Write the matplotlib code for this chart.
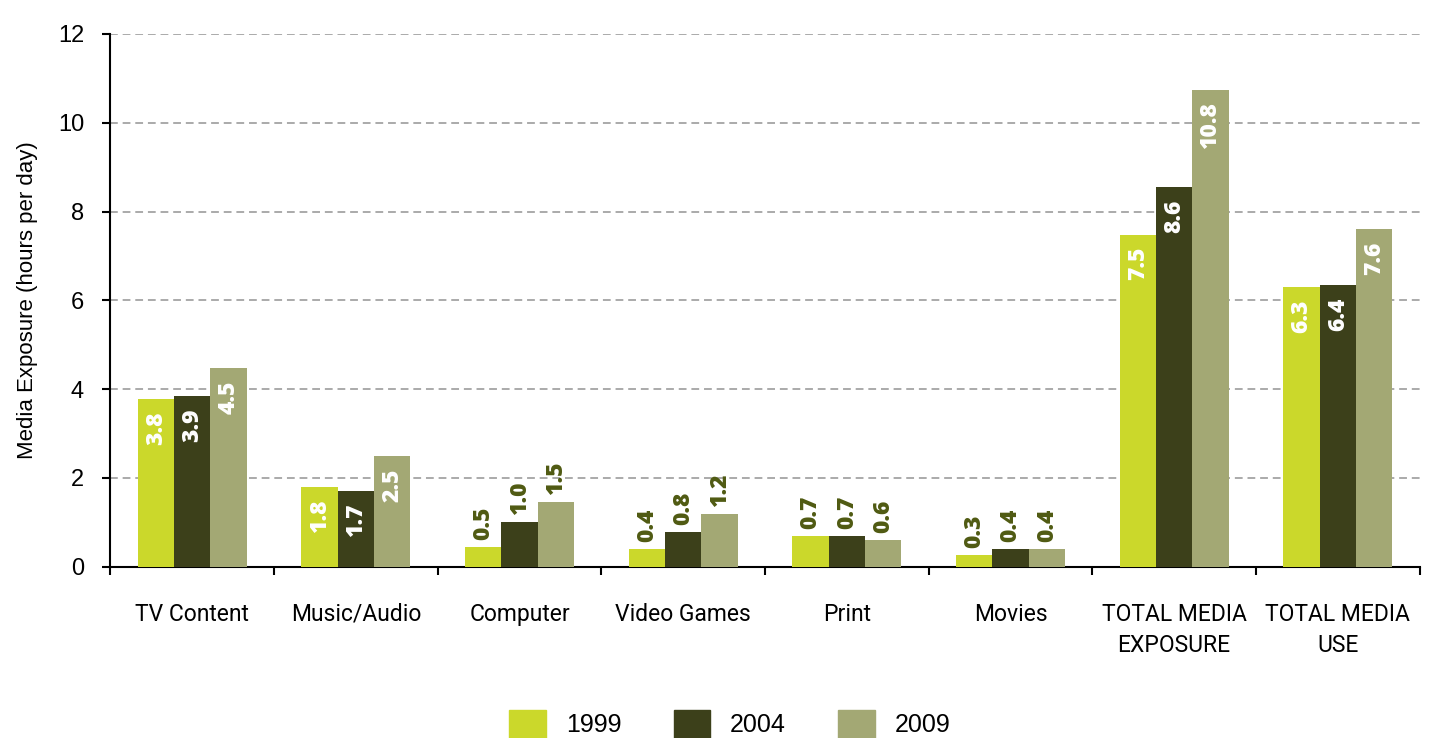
import numpy as np
import matplotlib.pyplot as plt
from matplotlib.patches import Patch

categories = ["TV Content", "Music/Audio", "Computer", "Video Games", "Print",
              "Movies", "TOTAL MEDIA\nEXPOSURE", "TOTAL MEDIA\nUSE"]
years = ["1999", "2004", "2009"]
v1999 = [3.78, 1.80, 0.45, 0.41, 0.70, 0.27, 7.48, 6.31]
v2004 = [3.85, 1.71, 1.01, 0.79, 0.70, 0.41, 8.56, 6.35]
v2009 = [4.48, 2.50, 1.46, 1.19, 0.61, 0.41, 10.74, 7.61]
labels1999 = ["3.8", "1.8", "0.5", "0.4", "0.7", "0.3", "7.5", "6.3"]
labels2004 = ["3.9", "1.7", "1.0", "0.8", "0.7", "0.4", "8.6", "6.4"]
labels2009 = ["4.5", "2.5", "1.5", "1.2", "0.6", "0.4", "10.8", "7.6"]

colors = ["#cbd82b", "#3c401a", "#a3a874"]
label_dark = "#4f5a12"

fig = plt.figure(figsize=(14.34, 7.38), dpi=100)
ax = fig.add_axes([0.077, 0.232, 0.913, 0.722])

x = np.arange(len(categories))
w = 0.222
series = [v1999, v2004, v2009]
texts = [labels1999, labels2004, labels2009]
for i in range(3):
    pos = x + (i - 1) * w
    ax.bar(pos, series[i], w, color=colors[i], zorder=3)
    for p, v, t in zip(pos, series[i], texts[i]):
        if v >= 1.7:
            ax.text(p, v - 0.28, t, rotation=90, ha="center", va="top",
                    color="white", fontsize=16.5, fontweight="heavy",
                    family="Open Sans", zorder=4)
        else:
            ax.text(p, v + 0.15, t, rotation=90, ha="center", va="bottom",
                    color=label_dark, fontsize=16.5, fontweight="heavy",
                    family="Open Sans", zorder=4)

ax.set_xlim(-0.5, len(categories) - 0.5)
ax.set_ylim(0, 12)
ax.set_yticks(range(0, 13, 2))
ax.set_yticklabels([str(v) for v in range(0, 13, 2)], family="Liberation Sans")
ax.yaxis.grid(True, linestyle=(0, (4, 2.5)), color="#aaaaaa", linewidth=1.4, zorder=0)
ax.set_xticks(np.arange(len(categories) + 1) - 0.5)
ax.set_xticklabels([])
ax.set_xticks(x, minor=True)
ax.set_xticklabels(categories, minor=True, fontsize=16.5, family="Roboto",
                   linespacing=1.45)
ax.tick_params(axis="x", which="minor", length=0, pad=26)
ax.tick_params(axis="x", which="major", length=6, width=1.5)
ax.tick_params(axis="y", length=6, width=1.5, labelsize=17, pad=13)
for s in ["top", "right"]:
    ax.spines[s].set_visible(False)
ax.spines["left"].set_linewidth(1.5)
ax.spines["bottom"].set_linewidth(1.5)
ax.set_ylabel("Media Exposure (hours per day)", fontsize=16,
              family="Liberation Sans", labelpad=14)

handles = [Patch(color=c, label=y) for c, y in zip(colors, years)]
leg = fig.legend(handles=handles, loc="lower center", ncol=3, frameon=False,
                 prop={"family": "Liberation Sans", "size": 18},
                 handlelength=1.45, handleheight=1.35, columnspacing=2.1,
                 handletextpad=0.8, bbox_to_anchor=(0.509, -0.03))

fig.savefig("out.png", dpi=100)
